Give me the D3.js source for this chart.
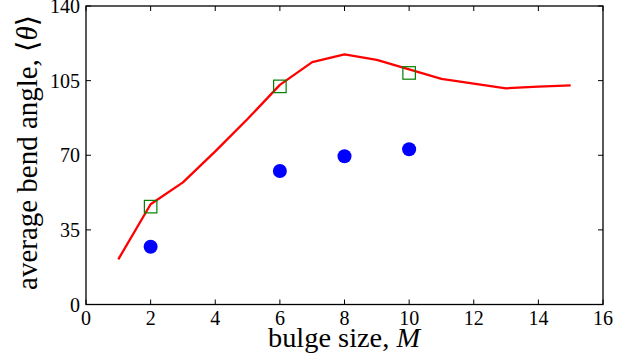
<!DOCTYPE html>
<html><head><meta charset="utf-8">
<script src="https://cdn.jsdelivr.net/npm/d3@7"></script>
<style>
body{margin:0;background:#fff;}
</style></head>
<body><svg id="c" width="634" height="362"></svg>
<script>
const lineX = [1,2,3,4,5,6,7,8,9,10,11,12,13,14,15];
const lineY = [21.2,47.0,57.3,71.8,87.0,103.0,113.7,117.3,114.7,110.3,105.8,103.6,101.4,102.2,102.8];
const squareX = [2,6,10];
const squareY = [45.9,102.3,108.6];
const dotX = [2,6,8,10];
const dotY = [27.1,62.6,69.5,72.8];
const xTicks = [0,2,4,6,8,10,12,14,16];
const yTicks = [0,35,70,105,140];

const FONT = "'Liberation Serif', 'Times New Roman', 'DejaVu Serif', serif";
const svg = d3.select("#c");
const L=86, R=603, T=6, B=304.5;
const x = d3.scaleLinear().domain([0,16]).range([L,R]);
const y = d3.scaleLinear().domain([0,140]).range([B,T]);

svg.append("rect").attr("x",L).attr("y",T).attr("width",R-L).attr("height",B-T)
  .attr("fill","none").attr("stroke","#000").attr("stroke-width",1.3);

const tl = 5;
const g = svg.append("g");
xTicks.forEach(v=>{
  g.append("line").attr("x1",x(v)).attr("x2",x(v)).attr("y1",B).attr("y2",B-tl).attr("stroke","#000");
  g.append("line").attr("x1",x(v)).attr("x2",x(v)).attr("y1",T).attr("y2",T+tl).attr("stroke","#000");
  g.append("text").attr("x",x(v)).attr("y",325).attr("text-anchor","middle")
    .attr("font-family",FONT).attr("font-size",20).text(v);
});
yTicks.forEach(v=>{
  g.append("line").attr("x1",L).attr("x2",L+tl).attr("y1",y(v)).attr("y2",y(v)).attr("stroke","#000");
  g.append("line").attr("x1",R).attr("x2",R-tl).attr("y1",y(v)).attr("y2",y(v)).attr("stroke","#000");
  g.append("text").attr("x",L-6).attr("y",y(v)+7).attr("text-anchor","end")
    .attr("font-family",FONT).attr("font-size",20).text(v);
});

const pts = lineX.map((d,i)=>[d,lineY[i]]);
svg.append("path").datum(pts)
  .attr("d", d3.line().x(d=>x(d[0])).y(d=>y(d[1])))
  .attr("fill","none").attr("stroke","#ff0000").attr("stroke-width",2.3).attr("stroke-linejoin","round");

const s=12.5;
svg.selectAll(".sq").data(squareX.map((d,i)=>[d,squareY[i]])).enter().append("rect")
  .attr("x",d=>x(d[0])-s/2).attr("y",d=>y(d[1])-s/2).attr("width",s).attr("height",s)
  .attr("fill","none").attr("stroke","#008000").attr("stroke-width",1.2);

svg.selectAll(".dt").data(dotX.map((d,i)=>[d,dotY[i]])).enter().append("circle")
  .attr("cx",d=>x(d[0])).attr("cy",d=>y(d[1])).attr("r",7).attr("fill","#0000ff");

function fit(t, target){
  const w = t.node().getComputedTextLength();
  const fs = +t.attr("font-size");
  t.attr("font-size", (fs*target/w).toFixed(2));
}

const xl = svg.append("text").attr("x",344).attr("y",347).attr("text-anchor","middle")
  .attr("font-family",FONT).attr("font-size",26);
xl.append("tspan").text("bulge size, ");
xl.append("tspan").attr("font-style","italic").text("M");
fit(xl,152);

const yl = svg.append("text").attr("transform",`translate(37,152.5) rotate(-90)`)
  .attr("text-anchor","middle").attr("font-family",FONT).attr("font-size",26);
yl.append("tspan").text("average bend angle, ⟨");
yl.append("tspan").attr("font-style","italic").text("θ");
yl.append("tspan").text("⟩");
fit(yl,275);
</script></body></html>
